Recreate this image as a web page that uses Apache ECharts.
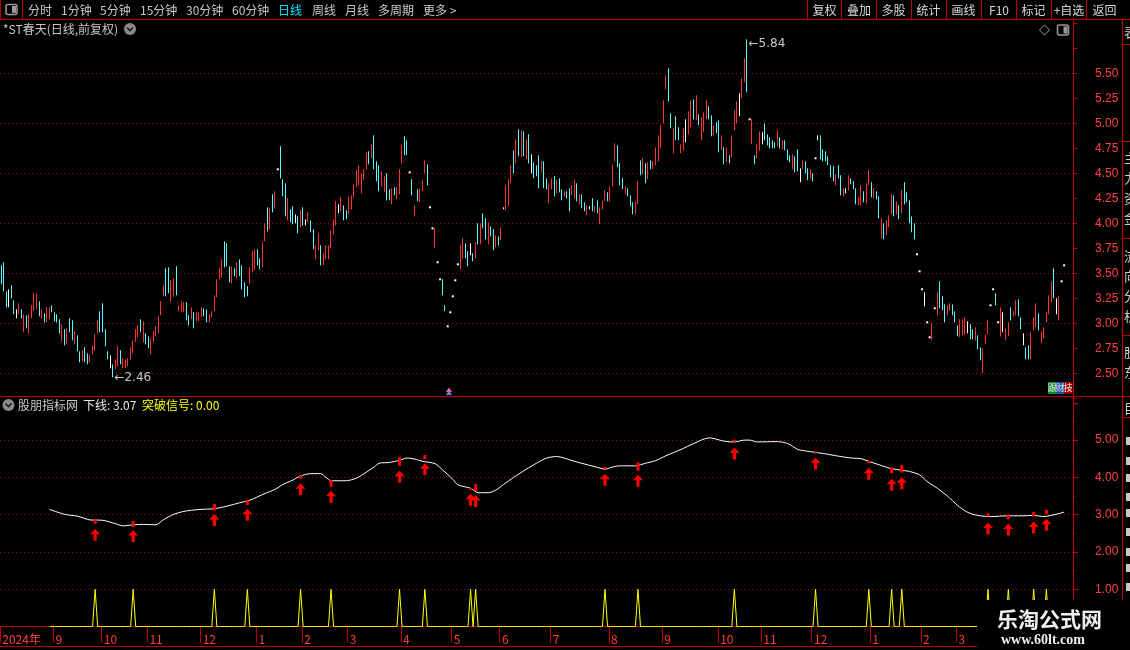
<!DOCTYPE html>
<html>
<head>
<meta charset="utf-8">
<script src="https://cdn.jsdelivr.net/npm/echarts@6/dist/echarts.min.js"></script>
<style>
html, body { margin: 0; padding: 0; background: #000; }
#main { width: 1130px; height: 650px; }
</style>
</head>
<body>
<div id="main"></div>
<script>
// daily bars: high / low, colour r = up, c = down, w = flat
var kHigh = [
  3.58,3.61,3.32,3.34,3.38,3.23,3.14,3.20,3.14,3.09, 3.08,3.09,3.18,3.30,3.30,3.22,3.14,3.10,3.16,3.16,
  3.18,3.11,3.09,3.04,2.99,2.94,2.95,3.05,3.03,2.92, 2.88,2.72,2.73,2.76,2.70,2.68,2.77,2.89,3.03,3.12,
  3.20,2.94,2.72,2.68,2.59,2.64,2.77,2.73,2.65,2.64, 2.65,2.76,2.83,2.94,2.98,3.04,3.02,2.90,2.87,2.85,
  2.92,2.97,3.07,3.22,3.38,3.55,3.56,3.43,3.45,3.57, 3.18,3.22,3.21,3.21,3.08,3.16,3.11,3.11,3.11,3.16,
  3.15,3.14,3.09,3.12,3.28,3.44,3.55,3.64,3.82,3.80, 3.57,3.57,3.55,3.61,3.64,3.58,3.41,3.37,3.56,3.72,
  3.74,3.74,3.65,3.81,4.00,4.16,4.15,4.29,4.32,4.54, 4.77,4.44,4.40,4.25,4.14,4.17,4.09,4.07,
  4.13,4.16,4.04,4.11,4.03,3.94,3.78,3.90,3.78,3.70, 3.78,3.78,3.93,4.04,4.22,4.19,4.26,4.18,4.13,4.27,
  4.28,4.39,4.53,4.58,4.50,4.54,4.71,4.72,4.79,4.88, 4.62,4.58,4.52,4.47,4.50,4.34,4.35,4.36,4.36,4.54,
  4.78,4.87,4.83,4.51,4.44,4.18,4.34,4.35,4.43,4.63, 4.59,4.16,3.95,3.95,3.61,3.44,3.44,3.18,2.97,3.11,
  3.27,3.43,3.59,3.78,3.85,3.80,3.72,3.80,3.70,3.81, 4.00,4.00,4.10,4.05,4.01,3.97,3.94,3.88,3.87,3.96,
  4.16,4.38,4.44,4.58,4.73,4.84,4.94,4.93,4.92,4.84, 4.89,4.69,4.61,4.58,4.68,4.62,4.62,4.45,4.40,4.45,
  4.47,4.43,4.45,4.34,4.32,4.32,4.35,4.38,4.44,4.40, 4.29,4.29,4.21,4.18,4.17,4.25,4.17,4.23,4.16,4.23,
  4.33,4.31,4.37,4.59,4.80,4.78,4.60,4.45,4.37,4.35, 4.28,4.21,4.22,4.42,
  4.63,4.65,4.60,4.61,4.63,4.62,4.76,4.88,4.98,5.23, 5.48,5.55,5.10,4.95,5.07,4.96,4.79,4.95,5.04,5.12,
  5.23,5.24,5.28,5.09,5.06,5.11,5.23,5.17,5.08,4.98, 5.01,5.03,4.88,4.76,4.76,4.68,4.88,5.13,5.22,5.30,
  5.45,5.65,5.84,5.04,5.04,4.68,4.79,4.92,4.91,5.00, 4.89,4.86,4.83,4.81,4.93,4.86,4.83,4.83,4.74,4.68,
  4.69,4.67,4.74,4.55,4.63,4.62,4.55,4.54,4.50,4.65, 4.88,4.88,4.74,4.72,4.67,4.58,4.57,4.49,4.58,4.48,
  4.35,4.35,4.48,4.45,4.42,4.35,4.26,4.38,4.32,4.40, 4.53,4.41,4.35,4.32,4.27,4.05,4.00,4.03,4.08,4.29,
  4.28,4.22,4.18,4.33,4.41,4.31,4.23,4.07,4.00,3.69, 3.52,3.34,3.31,3.01,2.86,3.00,3.15,3.31,3.42,3.27,
  3.19,3.18,3.20,3.19,3.12,2.98,3.04,3.04,3.06,3.02, 2.99,2.94,2.96,2.88,2.76,2.75,2.89,3.03,3.18,3.34,
  3.30,3.01,3.16,3.11,2.95,3.01,3.16,3.12,3.23,3.24, 3.06,2.90,2.76,2.78,2.91,3.06,3.20,3.10,2.92,2.96,
  3.11,3.28,3.42,3.55,3.25,3.27,3.42,3.58
];
var kLow = [
  3.39,3.32,3.16,3.16,3.25,3.09,3.05,3.09,3.05,2.91, 2.95,2.90,3.05,3.12,3.14,3.07,3.05,3.01,3.01,3.04,
  3.11,3.02,3.01,2.90,2.82,2.78,2.79,2.91,2.83,2.79, 2.72,2.61,2.62,2.61,2.59,2.61,2.69,2.73,2.90,2.91,
  2.91,2.77,2.64,2.55,2.46,2.54,2.57,2.59,2.55,2.55, 2.57,2.63,2.70,2.81,2.86,2.91,2.81,2.79,2.75,2.69,
  2.81,2.87,2.90,3.08,3.27,3.27,3.30,3.21,3.27,3.28, 3.12,3.11,3.11,3.03,2.98,3.04,2.95,3.02,3.02,3.06,
  3.07,3.01,3.01,3.06,3.12,3.26,3.44,3.46,3.56,3.57, 3.41,3.40,3.47,3.45,3.47,3.34,3.26,3.27,3.39,3.51,
  3.53,3.58,3.54,3.56,3.82,3.92,3.94,4.11,4.15,4.54, 4.45,4.27,4.07,4.03,4.01,3.99,4.00,3.90,
  3.96,3.98,3.98,4.01,3.91,3.74,3.64,3.73,3.58,3.58, 3.64,3.64,3.75,3.89,3.98,4.10,4.12,4.03,4.04,4.09,
  4.14,4.26,4.36,4.38,4.30,4.43,4.54,4.59,4.65,4.54, 4.42,4.32,4.37,4.31,4.23,4.23,4.19,4.28,4.24,4.29,
  4.60,4.68,4.68,4.51,4.28,4.07,4.22,4.21,4.32,4.50, 4.38,4.16,3.95,3.75,3.61,3.44,3.28,3.12,2.97,3.11,
  3.27,3.43,3.59,3.54,3.65,3.65,3.57,3.68,3.62,3.65, 3.79,3.79,3.95,3.84,3.79,3.87,3.73,3.76,3.78,3.83,
  4.14,4.13,4.17,4.40,4.50,4.60,4.67,4.66,4.67,4.64, 4.60,4.50,4.45,4.47,4.35,4.51,4.35,4.34,4.20,4.34,
  4.27,4.30,4.31,4.23,4.27,4.25,4.12,4.28,4.25,4.22, 4.19,4.15,4.12,4.08,4.14,4.12,4.11,4.10,3.99,4.14,
  4.22,4.22,4.22,4.37,4.62,4.56,4.38,4.34,4.29,4.27, 4.17,4.09,4.09,4.19,
  4.48,4.49,4.40,4.44,4.54,4.54,4.58,4.62,4.75,5.00, 5.34,5.22,4.95,4.70,4.83,4.83,4.70,4.73,4.81,4.89,
  4.96,5.04,5.03,4.98,4.83,4.91,5.04,5.04,4.87,4.88, 4.90,4.71,4.73,4.59,4.61,4.60,4.66,4.93,5.00,5.07,
  5.25,5.41,5.31,5.04,4.79,4.59,4.65,4.73,4.79,4.83, 4.78,4.75,4.75,4.75,4.77,4.75,4.74,4.73,4.63,4.61,
  4.54,4.51,4.52,4.41,4.54,4.50,4.43,4.45,4.42,4.65, 4.83,4.64,4.62,4.62,4.58,4.46,4.42,4.38,4.45,4.28,
  4.27,4.30,4.33,4.39,4.34,4.19,4.18,4.18,4.21,4.20, 4.38,4.26,4.25,4.24,4.05,3.85,3.84,3.88,3.96,4.09,
  4.07,4.09,4.04,4.10,4.19,4.21,4.00,3.91,3.84,3.69, 3.52,3.34,3.17,3.01,2.86,2.83,3.15,3.08,3.15,3.13,
  3.01,3.08,3.13,3.08,3.01,2.87,2.86,2.88,2.89,2.90, 2.84,2.84,2.83,2.74,2.63,2.50,2.79,2.89,3.18,3.34,
  3.18,3.01,2.87,2.91,2.83,2.87,3.03,3.07,3.08,3.07, 2.94,2.78,2.64,2.64,2.64,2.93,2.96,2.93,2.80,2.85,
  3.01,3.09,3.21,3.25,3.09,3.03,3.42,3.58
];
var kDir =
  'cccwccwrcr' + 'crrrrcrcrr' + 'ccccrcrccr' + 'ccrccrrrrc' + 'cccwcrrcrr' + 'rrrrrcrccr' +
  'rrrrrccrrc' + 'rrrccrcrrr' + 'ccrrrrrrcc' + 'crcrccccrr' + 'rccrrcrcrw' + 'cccrccwc' +
  'rcwrccrrcr' + 'rrrrrwrccr' + 'rrrrrrrcrc' + 'ccrrccrcrr' + 'rccwcrcrrr' + 'cwwrwwccww' +
  'wwwrrccwcr' + 'crccrccrcr' + 'wrrrcrcrcr' + 'cwcccrccrr' + 'crccrccrrc' + 'rccrwcrcrr' +
  'rcrrrcccrc' + 'ccrr' +
  'crcrcrrrrr' + 'rccrccrrwr' + 'rcrcrrrccr' + 'ccrcrcrrrw' + 'rrcwrcrrwc' + 'ccccrcrccc' +
  'rccwrccrcw' + 'wccccccrcc' + 'rwrcccrrcr' + 'rcrccrcrrr' + 'crcrcccccw' + 'wwwwwrwrcc' +
  'crrcccrrrw' + 'ccrccrrrww' + 'cwrwrrcrrc' + 'cwccrrrcrr' + 'rrrcwrww';

// month marks on the date strip (bar index of the first day)
var monthIdx = [0, 21, 40, 58, 79, 101, 119, 137, 158, 178, 197, 217, 240, 261, 283, 300, 320, 343, 363, 377];
var monthText = ['2024年', '9', '10', '11', '12', '1', '2', '3', '4', '5', '6', '7', '8', '9', '10', '11', '12', '1', '2', '3'];

// 下线 (bar index, value)
var xiaxian = [
  [19,3.14],[25,3.01],[30,2.96],[35,2.86],[40,2.85],[45,2.76],[48,2.70],[52,2.73],[56,2.74],[61,2.73],
  [64,2.87],[68,3.01],[72,3.09],[78,3.14],[84,3.16],[89,3.23],[94,3.32],[98,3.39],[104,3.57],[108,3.68],
  [111,3.81],[115,3.93],[118,4.04],[122,4.10],[126,4.10],[128,4.00],[130,3.91],[136,3.91],[140,3.98],[143,4.10],
  [147,4.28],[149,4.38],[153,4.40],[157,4.46],[160,4.52],[163,4.49],[166,4.43],[171,4.37],[174,4.20],[178,3.95],
  [180,3.80],[185,3.71],[188,3.59],[192,3.59],[195,3.66],[198,3.81],[202,4.00],[207,4.22],[211,4.38],[215,4.52],
  [219,4.56],[226,4.43],[231,4.34],[235,4.27],[238,4.22],[241,4.28],[244,4.31],[250,4.31],[254,4.38],[258,4.45],
  [262,4.58],[268,4.75],[273,4.91],[279,5.06],[281,5.04],[285,4.97],[289,4.95],[293,5.00],[295,5.00],[298,4.95],
  [306,4.96],[310,4.91],[314,4.75],[318,4.70],[322,4.66],[325,4.63],[330,4.57],[335,4.52],[339,4.50],[342,4.43],
  [346,4.34],[350,4.25],[354,4.20],[358,4.16],[362,4.07],[365,3.89],[369,3.71],[373,3.50],[377,3.25],[380,3.10],
  [383,3.01],[387,2.96],[391,2.95],[396,2.97],[402,2.97],[407,2.98],[411,2.95],[413,2.97],[417,3.03],[419,3.07]
];

// 突破信号: bars where it fires, the red mark on the line and the arrow under it
var sigStart = 19;
var sigIdx   = [37, 52, 84, 97, 118, 130, 157, 167, 185, 187, 238, 251, 289, 321, 342, 351, 355, 389, 397, 407, 412];
var sigBarHi = [2.88,2.83,3.29,3.39,4.06,3.93,4.54,4.60,3.71,3.82,4.28,4.40,4.98,4.66,4.44,4.27,4.33,3.04,3.01,3.07,3.13];
var sigBarLo = [2.76,2.67,3.11,3.26,3.96,3.75,4.31,4.49,3.66,3.64,4.22,4.18,4.96,4.64,4.38,4.11,4.13,2.95,2.88,2.95,3.01];
var sigArrow = [2.46,2.43,2.86,3.00,3.68,3.48,4.02,4.22,3.40,3.37,3.94,3.91,4.64,4.37,4.10,3.80,3.84,2.63,2.60,2.66,2.73];

var RED = '#c00000';
var GRID_RED = '#8c1010';
var UP = '#ff3232';
var DN = '#54fcfc';
var FONT = '"Liberation Sans","Noto Sans CJK SC",sans-serif';
var CJK = '"Noto Sans CJK SC","Liberation Sans",sans-serif';

var N = kDir.length;
if (kHigh.length !== N || kLow.length !== N) console.log('bar count mismatch', N, kHigh.length, kLow.length);
var PAD = 3;

var cats = [];
var labelOf = {};
for (var i = 0; i < N + PAD; i++) cats.push('d' + i);
for (i = 0; i < monthIdx.length; i++) labelOf[monthIdx[i]] = monthText[i];
var isMonth = function(idx) { return labelOf[idx] !== undefined; };

var white = { color: '#fff', color0: '#fff', borderColor: '#fff', borderColor0: '#fff' };
var kData = [];
var flatDots = [];   // one-price days (no range) show as a single white dot
for (i = 0; i < N; i++) {
  var h = kHigh[i], l = kLow[i], d = kDir[i];
  if (d === 'r') kData.push([l, h, l, h]);
  else if (d === 'c') kData.push([h, l, l, h]);
  else kData.push({ value: [l, l, l, h], itemStyle: white });
  if (h === l) flatDots.push([i, h]);
}

var sigLine = [], barBase = [], barLen = [];
for (i = 0; i < N; i++) {
  sigLine.push(i < sigStart ? '-' : 0);
  barBase.push('-');
  barLen.push('-');
}
var arrows = [];
sigIdx.forEach(function(k, j) {
  sigLine[k] = 1;
  barBase[k] = sigBarLo[j];
  barLen[k] = +(sigBarHi[j] - sigBarLo[j]).toFixed(2);
  arrows.push([k, sigArrow[j]]);
});

var hiVal = Math.max.apply(null, kHigh), loVal = Math.min.apply(null, kLow);
var hiIdx = kHigh.indexOf(hiVal), loIdx = kLow.indexOf(loVal);

// ---- chrome (toolbar, frames, captions, watermark)
var G = [];
function ln(x1, y1, x2, y2, c, z) {
  G.push({ type: 'line', silent: true, z: z || 50, shape: { x1: x1, y1: y1, x2: x2, y2: y2 },
    style: { stroke: c || RED, lineWidth: 1 } });
}
function tx(x, y, s, c, size, align, font, z) {
  G.push({ type: 'text', silent: true, z: z || 60, x: x, y: y,
    style: { text: s, fill: c, font: (font || (size + 'px ' + CJK)), textAlign: align || 'left', align: align || 'left',
      textVerticalAlign: 'middle', verticalAlign: 'middle' } });
}
function chevron(cx, cy) {
  G.push({ type: 'circle', silent: true, z: 60, shape: { cx: cx, cy: cy, r: 6 }, style: { fill: '#8a8a8a' } });
  G.push({ type: 'polyline', silent: true, z: 61, shape: { points: [[cx - 3, cy - 1.5], [cx, cy + 1.5], [cx + 3, cy - 1.5]] },
    style: { stroke: '#1a1a1a', lineWidth: 1.6, fill: null } });
}
function panelIcon(x, y) {
  G.push({ type: 'rect', silent: true, z: 60, shape: { x: x, y: y, width: 11, height: 10, r: 2 },
    style: { fill: null, stroke: '#9a9a9a', lineWidth: 1.5 } });
  G.push({ type: 'rect', silent: true, z: 60, shape: { x: x + 6, y: y + 1.5, width: 4, height: 7 }, style: { fill: '#9a9a9a' } });
}

// toolbar
ln(0, 19.5, 1130, 19.5);
ln(0.5, 0, 0.5, 19.5);
ln(22.5, 0, 22.5, 19.5);
panelIcon(6, 4.5);
var menu = [[28, '分时'], [61, '1分钟'], [100, '5分钟'], [140, '15分钟'], [186, '30分钟'], [232, '60分钟'],
  [278, '日线'], [312, '周线'], [345, '月线'], [378, '多周期'], [423, '更多 >']];
menu.forEach(function(m) { tx(m[0], 10, m[1], m[1] === '日线' ? '#00e4ff' : '#c8c8c8', 12); });
var btns = [[824.5, '复权'], [859, '叠加'], [893.5, '多股'], [928.5, '统计'], [963.5, '画线'], [999, 'F10'],
  [1033.5, '标记'], [1069, '+自选'], [1104.5, '返回']];
btns.forEach(function(b) { tx(b[0], 10, b[1], '#d8d8d8', 12, 'center'); });
[807.5, 841.5, 876.5, 911.5, 946.5, 981.5, 1016.5, 1051.5, 1086.5].forEach(function(x) { ln(x, 0, x, 19.5); });

// frames
ln(1073.5, 19.5, 1073.5, 650);
ln(1122.5, 19.5, 1122.5, 650);
ln(0, 396.5, 1130, 396.5);
ln(0, 646.5, 1073, 646.5);
[44.5, 141.5, 238.5, 335.5, 417.5].forEach(function(y) { ln(1122.5, y, 1130, y); });

// captions
tx(3, 29, '*ST春天(日线,前复权)', '#c8c8c8', 12);
chevron(130, 29);
G.push({ type: 'polygon', silent: true, z: 60, shape: { points: [[1044.5, 25], [1049.5, 30], [1044.5, 35], [1039.5, 30]] },
  style: { fill: null, stroke: '#9a9a9a', lineWidth: 1 } });
panelIcon(1057.5, 25);
chevron(8.5, 405);
tx(18, 405, '股朋指标网', '#c8c8c8', 12);
tx(83, 405, '下线: ' + xiaxian[xiaxian.length - 1][1].toFixed(2), '#e6e6e6', 12);
tx(142, 405, '突破信号: ' + sigLine[N - 1].toFixed(2), '#ffff00', 12);

// little badge and marker
[['跟', '#0e8a2a', 1048], ['财', '#1d4fa3', 1056], ['技', '#a00000', 1064]].forEach(function(b) {
  G.push({ type: 'rect', silent: true, z: 60, shape: { x: b[2], y: 382, width: 8.5, height: 12 }, style: { fill: b[1] } });
  tx(b[2] + 4.3, 388, b[0], '#f0f0f0', 9, 'center');
});
G.push({ type: 'polygon', silent: true, z: 60, shape: { points: [[446, 392], [449, 387.5], [452, 392]] }, style: { fill: '#ff6a8a' } });
G.push({ type: 'polygon', silent: true, z: 60, shape: { points: [[446, 395], [449, 390.5], [452, 395]] }, style: { fill: '#6a7aff' } });

// clipped side list at the right edge
[[32, '表'], [158, '主'], [178, '力'], [198, '资'], [218, '金'], [256, '流'], [276, '向'], [296, '分'], [316, '析'],
 [352, '股'], [372, '东'], [408, '目']].forEach(function(t) { tx(1124, t[0], t[1], '#cfcfcf', 13); });
[441, 461, 478, 497, 513, 532, 552, 568, 587].forEach(function(y) {
  G.push({ type: 'rect', silent: true, z: 60, shape: { x: 1126, y: y - 4, width: 4, height: 8 }, style: { fill: '#c8c8c8' } });
});

// watermark
G.push({ type: 'rect', silent: true, z: 100, shape: { x: 977, y: 600, width: 153, height: 50 }, style: { fill: '#000' } });
tx(997, 619, '乐淘公式网', '#eeeeee', 21, 'left', 'bold 21px ' + CJK, 101);
tx(1001, 640, 'www.60lt.com', '#eeeeee', 14, 'left', 'bold 14px "Liberation Serif","DejaVu Serif",serif', 101);

var chart = echarts.init(document.getElementById('main'), null, { renderer: 'canvas' });
var option = {
  backgroundColor: '#000',
  animation: false,
  textStyle: { fontFamily: FONT },
  grid: [
    { left: 0, top: 23.3, width: 1073, height: 375, outerBoundsMode: 'none' },
    { left: 0, top: 402.8, width: 1073, height: 223.8, outerBoundsMode: 'none' }
  ],
  xAxis: [
    { type: 'category', gridIndex: 0, data: cats, show: false },
    {
      type: 'category', gridIndex: 1, data: cats, offset: 3.4,
      axisLine: { show: true, lineStyle: { color: RED, width: 1 } },
      axisTick: { show: true, interval: isMonth, length: 16, lineStyle: { color: RED } },
      axisLabel: {
        show: true, interval: isMonth, color: '#ff3c3c', fontSize: 12, fontFamily: CJK,
        align: 'left', margin: 3, padding: [0, 0, 0, 1],
        formatter: function(v, idx) { return labelOf[idx] || ''; }
      },
      splitLine: { show: false }
    }
  ],
  yAxis: [
    {
      type: 'value', gridIndex: 0, position: 'right', min: 2.25, max: 6, interval: 0.25,
      axisLine: { show: false },
      axisTick: { show: true, length: 4, lineStyle: { color: RED } },
      axisLabel: {
        color: '#ff4040', fontSize: 12, margin: 22, fontFamily: FONT,
        formatter: function(v) { return (v < 2.5 || v > 5.5) ? '' : v.toFixed(2); }
      },
      splitLine: { show: true, showMaxLine: false, lineStyle: { color: ['rgba(0,0,0,0)', GRID_RED], type: [1, 3], width: 1 } }
    },
    {
      type: 'value', gridIndex: 1, position: 'right', min: 0, max: 6, interval: 1,
      axisLine: { show: false },
      axisTick: { show: true, length: 5, lineStyle: { color: RED } },
      minorTick: { show: true, splitNumber: 2, length: 2, lineStyle: { color: RED } },
      axisLabel: {
        color: '#ff4040', fontSize: 12, margin: 22, fontFamily: FONT,
        formatter: function(v) { return (v < 1 || v > 5) ? '' : v.toFixed(2); }
      },
      splitLine: { show: true, showMinLine: false, showMaxLine: false, lineStyle: { color: GRID_RED, type: [1, 3], width: 1 } }
    }
  ],
  series: [
    {
      name: 'K', type: 'candlestick', xAxisIndex: 0, yAxisIndex: 0, data: kData,
      barWidth: 0.6,
      itemStyle: { color: UP, color0: DN, borderColor: UP, borderColor0: DN, borderColorDoji: '#fff', borderWidth: 1 },
      markPoint: {
        symbol: 'circle', symbolSize: 1, itemStyle: { color: 'rgba(0,0,0,0)' },
        label: { show: true, position: 'right', distance: 1, color: '#c8c8c8', fontSize: 12,
          fontFamily: '"DejaVu Sans","Liberation Sans",sans-serif', formatter: '{b}' },
        data: [
          { name: '←' + hiVal.toFixed(2), coord: [hiIdx, hiVal], label: { offset: [0, 5] } },
          { name: '←' + loVal.toFixed(2), coord: [loIdx, loVal], label: { offset: [0, 1] } }
        ]
      }
    },
    {
      name: 'flat', type: 'scatter', xAxisIndex: 0, yAxisIndex: 0, data: flatDots,
      symbol: 'rect', symbolSize: [2, 2], itemStyle: { color: '#ffffff', opacity: 1 }, silent: true, z: 3
    },
    {
      name: '下线', type: 'line', xAxisIndex: 1, yAxisIndex: 1, data: xiaxian,
      showSymbol: false, smooth: 0.25, lineStyle: { color: '#ffffff', width: 1 }, z: 3
    },
    {
      name: '突破信号', type: 'line', xAxisIndex: 1, yAxisIndex: 1, data: sigLine,
      showSymbol: false, lineStyle: { color: '#ffff00', width: 1 }, z: 3
    },
    {
      name: 'markBase', type: 'bar', xAxisIndex: 1, yAxisIndex: 1, stack: 'mk', data: barBase,
      barWidth: 3, itemStyle: { color: 'rgba(0,0,0,0)' }, silent: true, z: 4
    },
    {
      name: 'mark', type: 'bar', xAxisIndex: 1, yAxisIndex: 1, stack: 'mk', data: barLen,
      barWidth: 3, barMinHeight: 2, itemStyle: { color: '#ff0000' }, z: 4
    },
    {
      name: 'arrow', type: 'scatter', xAxisIndex: 1, yAxisIndex: 1, data: arrows,
      symbol: 'path://M5,0L10,5.5L6.6,5.5L6.6,12L3.4,12L3.4,5.5L0,5.5Z', symbolSize: [10, 12],
      itemStyle: { color: '#ff0000', opacity: 1 }, z: 5
    }
  ],
  graphic: G
};
chart.setOption(option);
</script>
</body>
</html>
